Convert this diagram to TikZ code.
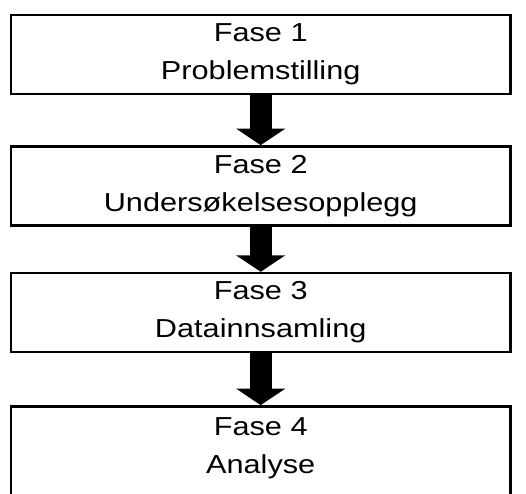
\documentclass[tikz,border=0pt]{standalone}
\usepackage{fontspec}
\setmainfont[FakeStretch=1.18]{Liberation Sans}
\usetikzlibrary{arrows.meta}
\begin{document}
\begin{tikzpicture}[x=1pt, y=-1pt,
  phase/.style={draw, line width=2.4pt, minimum width=499.6pt,
    minimum height=79pt, inner sep=0pt, align=center,
    font=\fontsize{26}{38}\selectfont},
  flow/.style={line width=22.3pt, -{Triangle[length=16.5pt,width=48.5pt]}}]
  \useasboundingbox (0,0) rectangle (526,493);
  \node[phase] (f1) at (260.7,54.4)  {Fase 1\\Problemstilling};
  \node[phase] (f2) at (260.7,185.8) {Fase 2\\Undersøkelsesopplegg};
  \node[phase] (f3) at (260.7,312.5) {Fase 3\\Datainnsamling};
  % the last box runs on past the lower edge; its text stays at the top
  \node[phase, minimum height=110pt] (f4) at (260.7,461.3)
    {Fase 4\\Analyse\rule[-31pt]{0pt}{0pt}};
  \draw[flow] (f1.south) -- (f2.north);
  \draw[flow] (f2.south) -- (f3.north);
  \draw[flow] (f3.south) -- (f4.north);
\end{tikzpicture}
\end{document}
